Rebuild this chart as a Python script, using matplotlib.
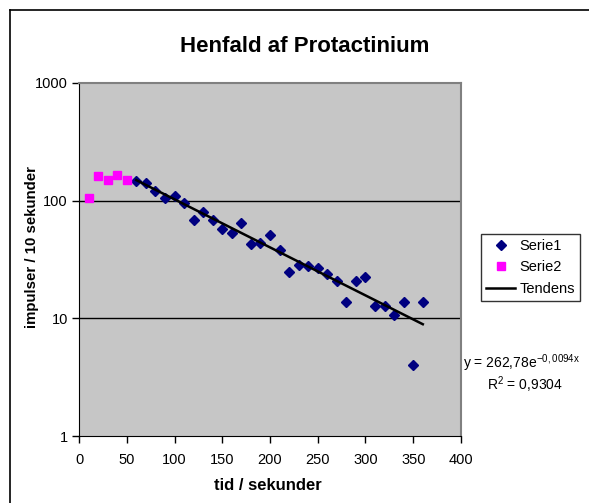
import numpy as np
import matplotlib
matplotlib.use("Agg")
import matplotlib.pyplot as plt
from matplotlib.lines import Line2D

plt.rcParams['font.family'] = ['Liberation Sans', 'DejaVu Sans']
plt.rcParams['mathtext.default'] = 'regular'

# data
serie1_x = [60, 70, 80, 90, 100, 110, 120, 130, 140, 150, 160, 170, 180, 190, 200,
            210, 220, 230, 240, 250, 260, 270, 280, 290, 300, 310, 320, 330, 340, 350, 360]
serie1_y = [148, 140, 122, 105, 110, 95, 69, 80, 68, 58, 53, 65, 42.5, 43.7, 51,
            37.8, 24.8, 28.5, 27.9, 26.6, 23.7, 20.9, 13.8, 20.9, 22.5, 12.7, 12.7, 10.7, 13.8, 4.0, 13.8]
serie2_x = [10, 20, 30, 40, 50]
serie2_y = [105, 161, 149, 164, 149]

# exponential trend line as printed on the chart
trend_a = 262.78
trend_b = -0.0094
trend_x = np.linspace(60, 360, 200)
trend_y = trend_a * np.exp(trend_b * trend_x)

W, H = 589, 503
fig = plt.figure(figsize=(W / 100, H / 100), dpi=100)
fig.patch.set_facecolor('white')

# outer chart frame (cropped at right and bottom)
fig.add_artist(Line2D([10 / W, 10 / W], [0, 1 - 10 / H], color='black', lw=1.2))
fig.add_artist(Line2D([10 / W, 1], [1 - 10 / H, 1 - 10 / H], color='black', lw=1.2))

left, right, top, bottom = 79, 461, 83, 436
ax = fig.add_axes([left / W, 1 - bottom / H, (right - left) / W, (bottom - top) / H])
ax.set_facecolor('#c6c6c6')
ax.set_yscale('log')
ax.set_xlim(0, 400)
ax.set_ylim(1, 1000)

for y in [10, 100]:
    ax.axhline(y, color='black', lw=1.0, zorder=1)

ax.plot(serie1_x, serie1_y, 'D', color='#000080', ms=5, zorder=3, label='Serie1')
ax.plot(serie2_x, serie2_y, 's', color='#ff00ff', ms=5.5, zorder=3, label='Serie2')
ax.plot(trend_x, trend_y, '-', color='black', lw=1.8, zorder=4, label='Tendens')

ax.spines['left'].set_color('black')
ax.spines['bottom'].set_color('black')
ax.spines['top'].set_color('#808080')
ax.spines['right'].set_color('#808080')
ax.spines['top'].set_linewidth(1.5)
ax.spines['right'].set_linewidth(1.5)

ax.set_xticks(np.arange(0, 401, 50))
ax.set_yticks([1, 10, 100, 1000])
ax.set_yticklabels(['1', '10', '100', '1000'])
ax.yaxis.set_minor_locator(matplotlib.ticker.NullLocator())
ax.tick_params(axis='both', direction='out', length=5, width=1, labelsize=10.5, color='black')
ax.tick_params(axis='x', pad=7)
ax.tick_params(axis='y', pad=3)

fig.text(305 / W, 1 - 47 / H, 'Henfald af Protactinium', ha='center', va='center',
         fontsize=16, fontweight='bold')
fig.text(268 / W, 1 - 486 / H, 'tid / sekunder', ha='center', va='center',
         fontsize=12, fontweight='bold')
fig.text(32 / W, 1 - 247 / H, 'impulser / 10 sekunder', ha='center', va='center',
         rotation=90, fontsize=10.8, fontweight='bold')

leg = fig.legend(loc='upper left', bbox_to_anchor=(481 / W, 1 - 234 / H), fontsize=10.5,
                 frameon=True, fancybox=False, borderpad=0.35, handlelength=2.0,
                 handletextpad=0.3, labelspacing=0.5, borderaxespad=0)
leg.get_frame().set_edgecolor('black')
leg.get_frame().set_linewidth(1)

fig.text(463 / W, 1 - 363 / H, 'y = 262,78e$^{-0,0094x}$', ha='left', va='center', fontsize=10)
fig.text(525 / W, 1 - 385 / H, 'R$^2$ = 0,9304', ha='center', va='center', fontsize=10)

fig.savefig('out.png', dpi=100)
